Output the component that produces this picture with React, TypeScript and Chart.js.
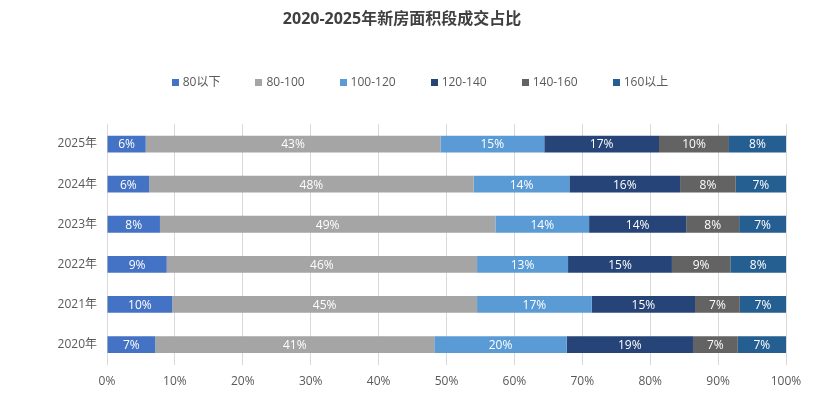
import React, { useEffect, useRef } from "react";
import { Chart, registerables } from "chart.js";

Chart.register(...registerables);

const TITLE = "2020-2025年新房面积段成交占比";
const categories = ["2025年", "2024年", "2023年", "2022年", "2021年", "2020年"];
const seriesNames = ["80以下", "80-100", "100-120", "120-140", "140-160", "160以上"];
const seriesColors = ["#4472C4", "#A5A5A5", "#5B9BD5", "#264478", "#636363", "#255E91"];

const s80below = [5.7, 6.2, 7.8, 8.8, 9.6, 7.1];
const s80to100 = [43.4, 47.8, 49.4, 45.7, 44.9, 41.1];
const s100to120 = [15.3, 14.1, 13.8, 13.4, 16.9, 19.5];
const s120to140 = [16.9, 16.3, 14.3, 15.3, 15.2, 18.6];
const s140to160 = [10.3, 8.2, 7.8, 8.6, 6.6, 6.6];
const s160above = [8.4, 7.4, 6.9, 8.2, 6.8, 7.1];
const seriesValues = [s80below, s80to100, s100to120, s120to140, s140to160, s160above];

const xTicks = [0, 10, 20, 30, 40, 50, 60, 70, 80, 90, 100];

const FONT = "'Open Sans', 'Noto Sans CJK SC', sans-serif";

const overlayPlugin = {
  id: "overlay",
  afterDatasetsDraw(chart: any) {
    const ctx = chart.ctx;
    ctx.save();
    ctx.font = `12px ${FONT}`;
    ctx.fillStyle = "#FFFFFF";
    ctx.textAlign = "center";
    ctx.textBaseline = "middle";
    chart.data.datasets.forEach((ds: any, di: number) => {
      const meta = chart.getDatasetMeta(di);
      meta.data.forEach((el: any, i: number) => {
        const v = ds.data[i];
        const cx = (el.x + el.base) / 2;
        ctx.fillText(Math.round(v) + "%", cx, el.y + 1);
      });
    });
    ctx.restore();
  },
  afterDraw(chart: any) {
    const ctx = chart.ctx;
    ctx.save();
    ctx.font = `bold 16px ${FONT}`;
    ctx.fillStyle = "#404040";
    ctx.textAlign = "center";
    ctx.textBaseline = "middle";
    ctx.fillText(TITLE, 402, 19);
    ctx.font = `12px ${FONT}`;
    const box = 7;
    const gapBoxText = 4;
    const gapItems = 35;
    const widths = chart.data.datasets.map((ds: any) => box + gapBoxText + ctx.measureText(ds.label).width);
    const total = widths.reduce((a: number, b: number) => a + b, 0) + gapItems * (widths.length - 1);
    let x = 420 - total / 2;
    const cy = 82.5;
    ctx.textAlign = "left";
    chart.data.datasets.forEach((ds: any, i: number) => {
      ctx.fillStyle = ds.backgroundColor;
      ctx.fillRect(Math.round(x), Math.round(cy - box / 2), box, box);
      ctx.fillStyle = "#595959";
      ctx.fillText(ds.label, x + box + gapBoxText, cy);
      x += widths[i] + gapItems;
    });
    ctx.restore();
  },
};

export default function App() {
  const ref = useRef<HTMLCanvasElement | null>(null);
  useEffect(() => {
    if (!ref.current) return;
    const chart = new Chart(ref.current, {
      type: "bar",
      data: {
        labels: categories,
        datasets: seriesNames.map((name, i) => ({
          label: name,
          data: seriesValues[i],
          backgroundColor: seriesColors[i],
          borderWidth: 0,
          barPercentage: 0.42,
          categoryPercentage: 1,
        })),
      },
      options: {
        indexAxis: "y",
        animation: false,
        responsive: true,
        maintainAspectRatio: false,
        layout: { padding: { top: 124, right: 33, bottom: 0, left: 0 } },
        plugins: {
          legend: { display: false },
          title: { display: false },
          tooltip: { enabled: false },
        },
        scales: {
          x: {
            stacked: true,
            min: 0,
            max: 100,
            afterBuildTicks: (scale: any) => {
              scale.ticks = xTicks.map((v) => ({ value: v }));
            },
            ticks: {
              callback: (v: any) => v + "%",
              color: "#595959",
              font: { size: 12, family: FONT },
              padding: 10,
              maxRotation: 0,
            },
            grid: { color: "#D9D9D9", drawTicks: false, lineWidth: 1 },
            border: { display: false },
          },
          y: {
            stacked: true,
            afterFit: (scale: any) => {
              scale.width = 107;
            },
            ticks: {
              color: "#595959",
              font: { size: 12, family: FONT },
              padding: 10,
            },
            grid: { display: false, drawTicks: false },
            border: { display: true, color: "#D9D9D9" },
          },
        },
      },
      plugins: [overlayPlugin],
    });
    return () => chart.destroy();
  }, []);
  return (
    <div style={{ position: "fixed", left: 0, top: 0, width: 819, height: 399, background: "#fff" }}>
      <canvas ref={ref} />
    </div>
  );
}
